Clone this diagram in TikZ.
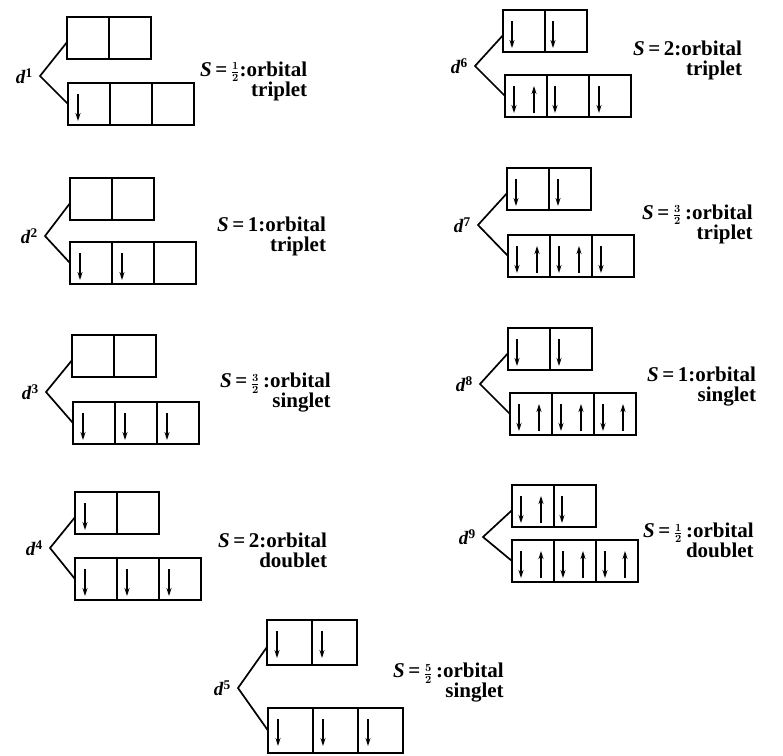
\documentclass[tikz,border=0pt]{standalone}
\usepackage{fontspec}
\setmainfont{Liberation Serif}
\usetikzlibrary{arrows.meta,calc}
\tikzset{
  orb/.style={draw, line width=1.7pt, minimum height=43pt, inner sep=0pt, outer sep=0pt, anchor=north west},
  spin/.style={line width=1.3pt, -{Stealth[length=8pt,width=5pt]}},
  branch/.style={line width=1.7pt},
  lvl/.style={font=\fontsize{19}{20}\selectfont\bfseries, anchor=east, inner sep=0pt},
  lab/.style={font=\fontsize{21}{20}\selectfont\bfseries\boldmath, align=right, anchor=west, inner sep=0pt},
}
% #1 prefix, #2 x, #3 y, #4 count, #5 box width, #6 box height
\newcommand{\mkrow}[6]{%
  \foreach \i in {1,...,#4} {\node[orb, minimum width=#5pt, minimum height=#6pt] (#1\i) at ({#2+(\i-1)*#5},#3) {};}}
% #1 id, #2 tx, #3 ty, #4 bx, #5 by, #6 vx, #7 vy, #8 superscript, #9 size
\newcommand{\cfg}[9]{%
  \mkrow{#1t}{#2}{#3}{2}{#9}{#9}
  \mkrow{#1b}{#4}{#5}{3}{#9}{#9}
  \coordinate (#1v) at (#6,#7);
  \node[lvl] (#1d) at (#6-7,#7) {\textit{d}\textsuperscript{#8}};
  \draw[branch] ($(#1t1.north west)!0.6!(#1t1.south west)$) -- (#1v) -- ($(#1b1.north west)!0.5!(#1b1.south west)$);
}
\newcommand{\spindn}[2]{\draw[spin] ([xshift=#2pt,yshift=-11pt]#1.north west) -- ++(0pt,-27pt);}
\newcommand{\spinup}[2]{\draw[spin] ([xshift=#2pt,yshift=-38pt]#1.north west) -- ++(0pt,27pt);}
\newcommand{\spinpair}[1]{\spindn{#1}{9}\spinup{#1}{29}}
\newcommand{\half}{$\scriptstyle\frac{1}{2}$}
\newcommand{\thalf}{$\scriptstyle\frac{3}{2}$}
\newcommand{\fhalf}{$\scriptstyle\frac{5}{2}$}

\begin{document}
\begin{tikzpicture}[x=1pt,y=-1pt]
\fill[white] (0,0) rectangle (783,755);
\useasboundingbox (0,0) rectangle (783,755);

% ---- left column ----
\cfg{a}{67}{17}{68}{83}{40}{76}{1}{42}
\spindn{ab1}{10}
\node[lab] (la) at (200,81) {\textit{S}\,=\,\half:orbital\\triplet};

\cfg{b}{70}{178}{70}{242}{45}{236}{2}{42}
\spindn{bb1}{10}\spindn{bb2}{10}
\node[lab] (lb) at (217,236) {\textit{S}\,=\,1:orbital\\triplet};

\cfg{c}{72}{335}{73}{402}{46}{392}{3}{42}
\spindn{cb1}{10}\spindn{cb2}{10}\spindn{cb3}{10}
\node[lab] (lc) at (220,393) {\textit{S}\,=\,\thalf\,:orbital\\singlet};

\cfg{e}{75}{492}{75}{558}{50}{548}{4}{42}
\spindn{et1}{10}
\spindn{eb1}{10}\spindn{eb2}{10}\spindn{eb3}{10}
\node[lab] (le) at (218,550) {\textit{S}\,=\,2:orbital\\doublet};

% ---- bottom centre ----
\cfg{f}{267}{620}{268}{708}{238}{688}{5}{45}
\spindn{ft1}{10}\spindn{ft2}{10}
\spindn{fb1}{10}\spindn{fb2}{10}\spindn{fb3}{10}
\node[lab] (lf) at (393,683) {\textit{S}\,=\,\fhalf\,:orbital\\singlet};

% ---- right column ----
\cfg{g}{503}{10}{505}{75}{475}{66}{6}{42}
\spindn{gt1}{9}\spindn{gt2}{8}
\spinpair{gb1}\spindn{gb2}{8}\spindn{gb3}{10}
\node[lab] (lg) at (633,60) {\textit{S}\,=\,2:orbital\\triplet};

\cfg{h}{507}{168}{508}{235}{478}{225}{7}{42}
\spindn{ht1}{9}\spindn{ht2}{9}
\spinpair{hb1}\spinpair{hb2}\spindn{hb3}{9}
\node[lab] (lh) at (642,224) {\textit{S}\,=\,\thalf\,:orbital\\triplet};

\cfg{k}{508}{328}{510}{393}{480}{384}{8}{42}
\spindn{kt1}{9}\spindn{kt2}{9}
\spinpair{kb1}\spinpair{kb2}\spinpair{kb3}
\node[lab] (lk) at (647,387) {\textit{S}\,=\,1:orbital\\singlet};

\cfg{m}{512}{485}{512}{540}{483}{537}{9}{42}
\spinpair{mt1}\spindn{mt2}{8}
\spinpair{mb1}\spinpair{mb2}\spinpair{mb3}
\node[lab] (lm) at (643,540) {\textit{S}\,=\,\half\,:orbital\\doublet};
\end{tikzpicture}
\end{document}
